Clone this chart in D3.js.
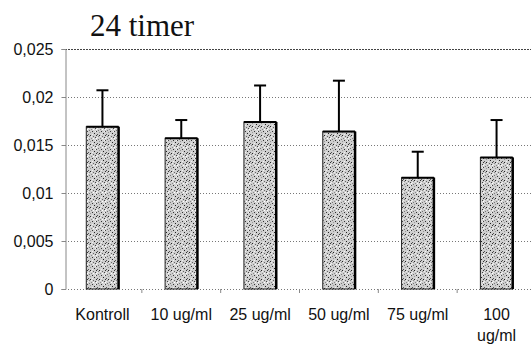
<!DOCTYPE html>
<html>
<head>
<meta charset="utf-8">
<script src="https://cdn.jsdelivr.net/npm/d3@7"></script>
<style>
  html, body { margin: 0; padding: 0; background: #fff; }
  svg { display: block; }
</style>
</head>
<body>
<svg id="chart" width="531" height="350"></svg>
<script>
// Mean values and standard deviations per concentration (24 hours)
const categories = ["Kontroll", "10 ug/ml", "25 ug/ml", "50 ug/ml", "75 ug/ml", "100 ug/ml"];
const means = [0.0169, 0.0157, 0.0174, 0.0164, 0.0116, 0.0137];
const errors = [0.0038, 0.0019, 0.0038, 0.0053, 0.0027, 0.0039];
const yTicks = [0, 0.005, 0.01, 0.015, 0.02, 0.025];
const title = "24 timer";

const svg = d3.select("#chart");
const margin = { left: 65, top: 49, right: -3, bottom: 61 };
const W = 531, H = 350;

const x = d3.scaleBand()
  .domain(categories)
  .range([margin.left, W - margin.right])
  .paddingInner(0.59)
  .paddingOuter(0.27);

const y = d3.scaleLinear()
  .domain([0, 0.025])
  .range([H - margin.bottom, margin.top]);

// Stippled fill for the bars
const defs = svg.append("defs");
const pat = defs.append("pattern")
  .attr("id", "stipple")
  .attr("patternUnits", "userSpaceOnUse")
  .attr("width", 9).attr("height", 9);
pat.append("rect").attr("width", 9).attr("height", 9).attr("fill", "#cfcfcf");
const dots = [
  [0,0,"#222"],[3,1,"#666"],[6,0,"#333"],[1,3,"#888"],[5,2,"#444"],
  [2,5,"#333"],[8,4,"#777"],[4,7,"#222"],[0,6,"#999"],[7,8,"#555"],
  [6,5,"#444"],[8,1,"#888"],[3,3,"#fff"],[1,1,"#eee"],[5,5,"#f4f4f4"],
  [7,2,"#eee"],[2,8,"#f0f0f0"],[4,4,"#ddd"],[6,3,"#fff"]
];
pat.selectAll("rect.d").data(dots).join("rect")
  .attr("class", "d")
  .attr("x", d => d[0]).attr("y", d => d[1])
  .attr("width", 1).attr("height", 1)
  .attr("fill", d => d[2]);

// Horizontal grid lines
svg.append("g")
  .selectAll("line")
  .data(yTicks)
  .join("line")
  .attr("x1", margin.left).attr("x2", W)
  .attr("y1", d => Math.round(y(d)) + 0.5)
  .attr("y2", d => Math.round(y(d)) + 0.5)
  .attr("stroke", d => d === 0.025 ? "#444" : "#777")
  .attr("stroke-width", 1)
  .attr("stroke-dasharray", d => d === 0.025 ? "2,1" : "1,2");

// Y axis
const yAxis = d3.axisLeft(y)
  .tickValues(yTicks)
  .tickSize(4)
  .tickFormat(d => d === 0 ? "0" : d3.format(".3~f")(d).replace(".", ","));
const gy = svg.append("g")
  .attr("transform", `translate(${margin.left + 0.5},0)`)
  .call(yAxis);
gy.select(".domain").attr("stroke", "#888");
gy.selectAll(".tick line").attr("stroke", "#888");
gy.selectAll(".tick text")
  .attr("x", -12)
  .attr("font-family", "Liberation Sans, Arial, sans-serif")
  .attr("font-size", 16)
  .attr("fill", "#111");

// X axis tick marks at category boundaries
const step = x.step();
const bounds = categories.slice(1).map(c => x(c) - (step - x.bandwidth()) / 2);
svg.append("g")
  .selectAll("line")
  .data(bounds)
  .join("line")
  .attr("x1", d => d).attr("x2", d => d)
  .attr("y1", y(0)).attr("y2", y(0) + 4)
  .attr("stroke", "#888");

// Bars
const bars = svg.append("g");
categories.forEach((c, i) => {
  const x0 = x(c), bw = x.bandwidth();
  const top = y(means[i]), bottom = y(0);
  bars.append("rect")
    .attr("x", x0).attr("y", top)
    .attr("width", bw).attr("height", bottom - top)
    .attr("fill", "url(#stipple)")
    .attr("stroke", "#222").attr("stroke-width", 1);
  // heavier shade on the right edge
  bars.append("line")
    .attr("x1", x0 + bw).attr("x2", x0 + bw)
    .attr("y1", top).attr("y2", bottom)
    .attr("stroke", "#000").attr("stroke-width", 2.5);
  bars.append("line")
    .attr("x1", x0).attr("x2", x0 + bw)
    .attr("y1", top).attr("y2", top)
    .attr("stroke", "#000").attr("stroke-width", 2);
});

// Error bars (upper only)
const eb = svg.append("g").attr("stroke", "#000");
categories.forEach((c, i) => {
  const cx = x(c) + x.bandwidth() / 2;
  const yt = y(means[i] + errors[i]);
  eb.append("line")
    .attr("x1", cx).attr("x2", cx)
    .attr("y1", y(means[i])).attr("y2", yt)
    .attr("stroke-width", 2);
  eb.append("line")
    .attr("x1", cx - 6).attr("x2", cx + 6)
    .attr("y1", yt).attr("y2", yt)
    .attr("stroke-width", 2);
});

// Category labels (the last one wraps onto two lines)
const labels = svg.append("g")
  .attr("font-family", "Liberation Sans, Arial, sans-serif")
  .attr("font-size", 16)
  .attr("fill", "#111")
  .attr("text-anchor", "middle");
categories.forEach((c, i) => {
  const cx = x(c) + x.bandwidth() / 2;
  const lines = (i === categories.length - 1) ? c.split(" ") : [c];
  const t = labels.append("text").attr("x", cx).attr("y", y(0) + 31);
  lines.forEach((ln, k) => {
    t.append("tspan").attr("x", cx).attr("dy", k === 0 ? 0 : 21).text(ln);
  });
});

// Title
svg.append("text")
  .attr("x", 142).attr("y", 36)
  .attr("text-anchor", "middle")
  .attr("font-family", "Liberation Serif, Times New Roman, serif")
  .attr("font-size", 31)
  .attr("fill", "#111")
  .text(title);
</script>
</body>
</html>
